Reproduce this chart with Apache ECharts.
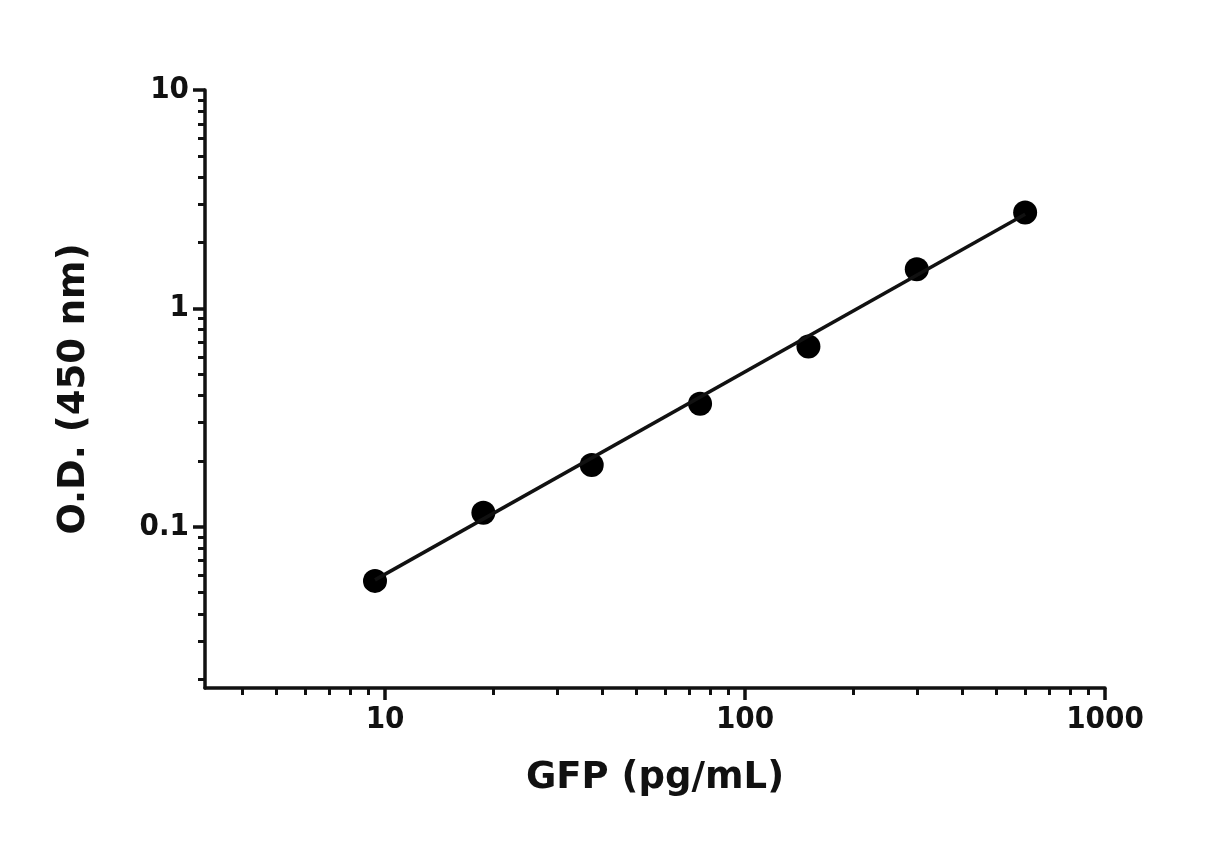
<!DOCTYPE html>
<html><head><meta charset="utf-8">
<script src="https://cdn.jsdelivr.net/npm/echarts@6/dist/echarts.min.js"></script>
<style>html,body{margin:0;background:#fff}#c{width:1230px;height:867px}</style>
</head><body><div id="c"></div>
<script>
var conc = [9.375, 18.75, 37.5, 75, 150, 300, 600]
var od = [0.0566, 0.116, 0.192, 0.366, 0.67, 1.51, 2.75]
var fitX = [9.375, 600]
var fitY = [0.0572, 2.7]
var xMajor = [10, 100, 1000]
var yMajor = [0.1, 1, 10]
var xMinor = [4, 5, 6, 7, 8, 9, 20, 30, 40, 50, 60, 70, 80, 90, 200, 300, 400, 500, 600, 700, 800, 900]
var yMinor = [0.02, 0.03, 0.04, 0.05, 0.06, 0.07, 0.08, 0.09, 0.2, 0.3, 0.4, 0.5, 0.6, 0.7, 0.8, 0.9, 2, 3, 4, 5, 6, 7, 8, 9]
var xMin = 3.16, xMax = 1000, yMin = 0.0183, yMax = 10

var lg = Math.log10
var font = "'DejaVu Sans Condensed', 'Liberation Sans Narrow', Arial, sans-serif"
function fmt(v) { var p = Math.round(v); return p < 0 ? String(+Math.pow(10, p).toFixed(-p)) : String(Math.pow(10, p)) }

function axisPair(dim, major, minor, min, max, name) {
  var base = {
    type: 'value', min: lg(min), max: lg(max), splitLine: { show: false }
  }
  var main = Object.assign({}, base, {
    name: name, nameLocation: 'middle',
    nameGap: dim === 'x' ? 72 : 112,
    nameTextStyle: { fontFamily: 'DejaVu Sans', fontWeight: 'bold', fontSize: 37, color: '#111' },
    axisLine: { show: true, onZero: false, lineStyle: { color: '#111', width: 3.5 } },
    axisTick: { show: true, length: 12, lineStyle: { color: '#111', width: 3.5 }, customValues: major.map(lg) },
    axisLabel: { show: true, customValues: major.map(lg), formatter: fmt, margin: 16,
      fontFamily: font, fontWeight: 'bold', fontSize: 31, color: '#111' }
  })
  var minorAxis = Object.assign({}, base, {
    axisLine: { show: false, onZero: false },
    axisTick: { show: true, length: 7, lineStyle: { color: '#111', width: 3 }, customValues: minor.map(lg) },
    axisLabel: { show: false }
  })
  if (dim === 'y') { main.nameRotate = 90; minorAxis.position = 'left'; main.position = 'left' }
  else { minorAxis.position = 'bottom'; main.position = 'bottom' }
  return [main, minorAxis]
}

var chart = echarts.init(document.getElementById('c'))
chart.setOption({
  animation: false,
  backgroundColor: '#fff',
  grid: { left: 205, right: 125, top: 90, bottom: 179 },
  xAxis: axisPair('x', xMajor, xMinor, xMin, xMax, 'GFP (pg/mL)'),
  yAxis: axisPair('y', yMajor, yMinor, yMin, yMax, 'O.D. (450 nm)'),
  series: [
    { type: 'line', data: fitX.map(function (x, i) { return [lg(x), lg(fitY[i])] }),
      symbol: 'none', lineStyle: { color: '#111', width: 3.5 } },
    { type: 'scatter', data: conc.map(function (x, i) { return [lg(x), lg(od[i])] }),
      symbol: 'circle', symbolSize: 24, itemStyle: { color: '#000', opacity: 1 } }
  ]
})
</script></body></html>
